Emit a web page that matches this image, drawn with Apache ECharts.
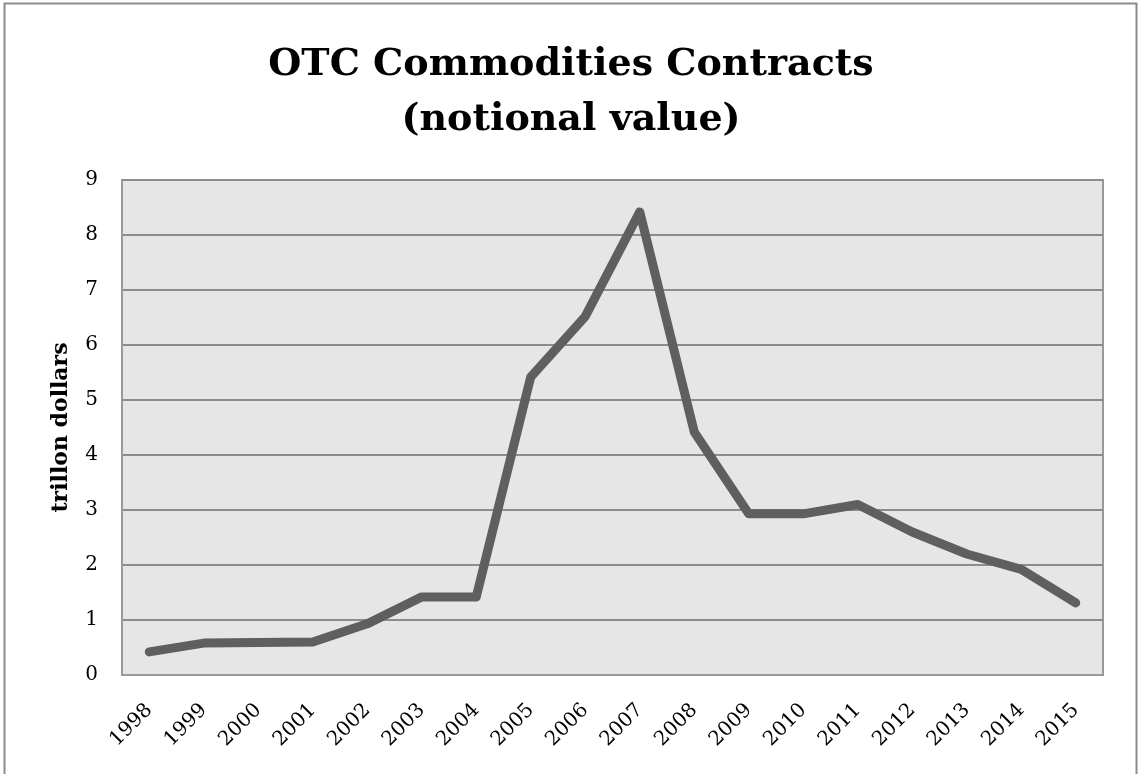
<!DOCTYPE html>
<html>
<head>
<meta charset="utf-8">
<script src="https://cdn.jsdelivr.net/npm/echarts@6/dist/echarts.min.js"></script>
<style>
  html, body { margin: 0; padding: 0; background: #fff; }
  #main { width: 1142px; height: 774px; }
</style>
</head>
<body>
<div id="main"></div>
<script>
// years on the x axis
const years = ["1998", "1999", "2000", "2001", "2002", "2003", "2004", "2005", "2006",
  "2007", "2008", "2009", "2010", "2011", "2012", "2013", "2014", "2015"];
// notional value, trillion dollars
const notional = [0.42, 0.58, 0.59, 0.6, 0.93, 1.42, 1.42, 5.42, 6.52,
  8.42, 4.42, 2.93, 2.93, 3.1, 2.6, 2.2, 1.92, 1.31];

const serif = "'DejaVu Serif', 'Liberation Serif', serif";

let chart = echarts.init(document.getElementById("main"));
let option = {
  animation: false,
  backgroundColor: "#fff",
  title: {
    text: "OTC Commodities Contracts\n(notional value)",
    left: "center",
    top: 33,
    textStyle: {
      fontFamily: serif,
      fontWeight: "bold",
      fontSize: 38,
      lineHeight: 55,
      color: "#000",
    },
  },
  graphic: [
    {
      // outer frame
      type: "rect",
      shape: { x: 4.5, y: 3.5, width: 1132, height: 800 },
      style: { fill: "none", stroke: "#8c8c8c", lineWidth: 2 },
      silent: true,
    },
  ],
  grid: {
    left: 122,
    right: 39,
    top: 180,
    bottom: 99,
    show: true,
    backgroundColor: "#e6e6e6",
    borderColor: "#999",
    borderWidth: 2,
  },
  xAxis: {
    type: "category",
    data: years,
    boundaryGap: true,
    axisLine: { show: true, lineStyle: { color: "#999", width: 2 } },
    axisTick: { show: false },
    axisLabel: {
      rotate: 45,
      margin: 32,
      interval: 0,
      color: "#000",
      fontFamily: serif,
      fontSize: 20,
    },
  },
  yAxis: {
    type: "value",
    min: 0,
    max: 9,
    interval: 1,
    name: "trillon dollars",
    nameLocation: "middle",
    nameGap: 50,
    nameRotate: 90,
    nameTextStyle: {
      fontFamily: serif,
      fontWeight: "bold",
      fontSize: 22,
      color: "#000",
    },
    axisLine: { show: true, lineStyle: { color: "#999", width: 2 } },
    axisTick: { show: false },
    splitLine: { show: true, lineStyle: { color: "#8c8c8c", width: 2 } },
    axisLabel: {
      margin: 24,
      color: "#000",
      fontFamily: serif,
      fontSize: 20,
    },
  },
  series: [
    {
      name: "notional value",
      type: "line",
      data: notional,
      symbol: "none",
      smooth: false,
      lineStyle: { color: "#5f5f5f", width: 9, cap: "round", join: "round" },
    },
  ],
};
chart.setOption(option);
</script>
</body>
</html>
